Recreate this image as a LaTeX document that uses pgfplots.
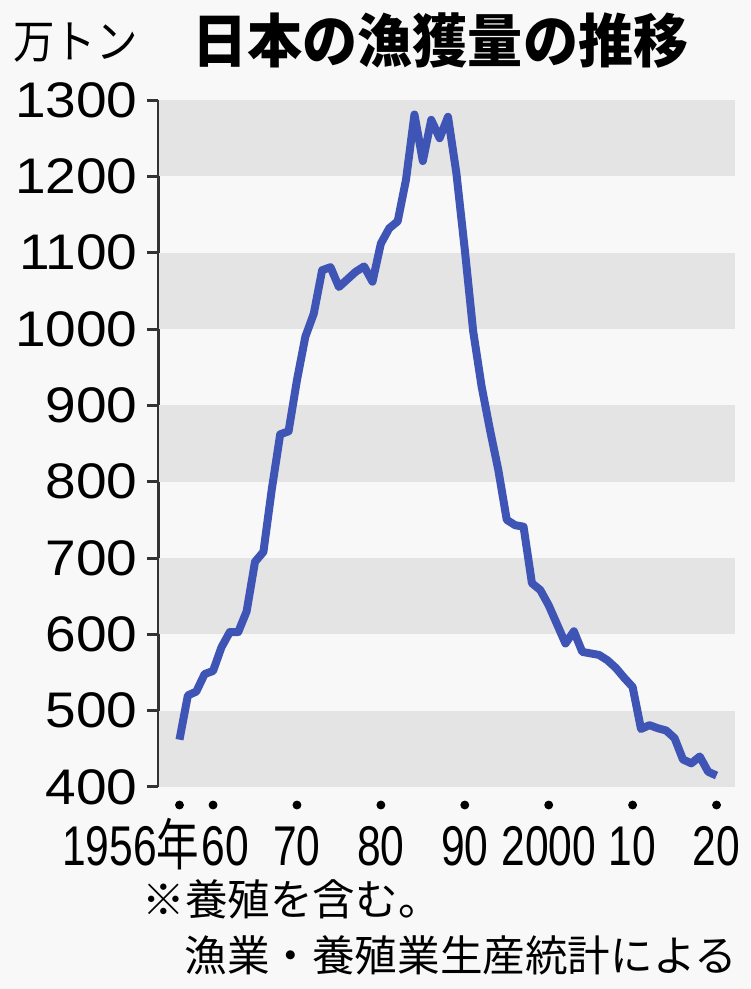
\documentclass[border=0pt]{standalone}
\usepackage{pgfplots}
\pgfplotsset{compat=1.18}
\usepackage{pgfplotstable}
\usepackage{fontspec}
\setmainfont{Liberation Sans}
\newfontfamily\cjk{Noto Sans CJK JP}
\newfontfamily\ylabfont[FakeStretch=1.1]{Liberation Sans}
\newfontfamily\xlabfont[FakeStretch=0.76]{Liberation Sans}
\newfontfamily\xcjk[FakeStretch=0.76]{Noto Sans CJK JP}
\newfontfamily\titlefont[FakeStretch=0.95]{Noto Sans CJK JP}
\newfontfamily\unitfont[FakeStretch=0.9]{Noto Sans CJK JP}
\definecolor{bg}{HTML}{F8F8F8}
\definecolor{band}{HTML}{E4E4E4}
\definecolor{linec}{HTML}{3F55B5}
\definecolor{axisc}{HTML}{333333}

\pgfplotstableread{
year val
1956 462
1957 520
1958 525
1959 548
1960 552
1961 583
1962 603
1963 603
1964 630
1965 695
1966 708
1967 790
1968 862
1969 866
1970 933
1971 990
1972 1020
1973 1077
1974 1081
1975 1055
1976 1065
1977 1075
1978 1082
1979 1062
1980 1112
1981 1132
1982 1141
1983 1196
1984 1281
1985 1220
1986 1274
1987 1250
1988 1278
1989 1204
1990 1104
1991 997
1992 925
1993 868
1994 815
1995 750
1996 743
1997 741
1998 667
1999 658
2000 638
2001 613
2002 588
2003 604
2004 577
2005 575
2006 573
2007 566
2008 556
2009 543
2010 531
2011 476
2012 481
2013 477
2014 474
2015 464
2016 436
2017 431
2018 440
2019 420
2020 415
}\catch

\pgfplotstableread{
year val
1956 376.4
1960 376.4
1970 376.4
1980 376.4
1990 376.4
2000 376.4
2010 376.4
2020 376.4
}\dots

\begin{document}
\begin{tikzpicture}
\fill[bg] (0,0) rectangle (375pt,494.5pt);
\begin{axis}[
  at={(79pt,101pt)}, anchor=south west,
  scale only axis, width=288.5pt, height=343.5pt,
  xmin=1953.44, xmax=2022.2, ymin=400, ymax=1300,
  axis x line*=bottom, axis y line*=left,
  x axis line style={draw=none},
  y axis line style={draw=axisc, line width=1.5pt},
  xtick={1956,1960,1970,1980,1990,2000,2010,2020},
  xticklabels={{\llap{1956{\xcjk 年}\kern-10pt}},{\kern12pt 60},70,80,90,2000,10,20},
  x tick style={draw=none},
  ytick={400,500,...,1300},
  y tick style={draw=axisc, line width=1.5pt},
  tick align=outside, major tick length=5.5pt,
  /pgf/number format/assume math mode=true,
  /pgf/number format/1000 sep={},
  yticklabel style={font=\ylabfont\fontsize{25}{25}\selectfont, anchor=east, inner sep=0pt, xshift=-4.5pt},
  xticklabel style={font=\xlabfont\fontsize{28}{28}\selectfont, anchor=base, inner sep=0pt, yshift=-34pt},
  clip=false,
]
\addplot[draw=none, fill=band, forget plot] coordinates {(1953.6,400) (2022.2,400) (2022.2,500) (1953.6,500)} -- cycle;
\addplot[draw=none, fill=band, forget plot] coordinates {(1953.6,600) (2022.2,600) (2022.2,700) (1953.6,700)} -- cycle;
\addplot[draw=none, fill=band, forget plot] coordinates {(1953.6,800) (2022.2,800) (2022.2,900) (1953.6,900)} -- cycle;
\addplot[draw=none, fill=band, forget plot] coordinates {(1953.6,1000) (2022.2,1000) (2022.2,1100) (1953.6,1100)} -- cycle;
\addplot[draw=none, fill=band, forget plot] coordinates {(1953.6,1200) (2022.2,1200) (2022.2,1300) (1953.6,1300)} -- cycle;
\addplot[linec, line width=4pt, line join=round] table[x=year, y=val] {\catch};
\addplot[only marks, mark=*, mark size=2pt, black] table[x=year, y=val] {\dots};
\end{axis}
\node[anchor=west, inner sep=0pt, font=\unitfont\fontsize{23}{23}\selectfont] at (6.5pt,473pt) {万トン};
\node[anchor=west, inner sep=0pt, font=\titlefont\bfseries\fontsize{29}{29}\selectfont] at (96pt,474pt) {日本の漁獲量の推移};
\node[anchor=west, inner sep=0pt, font=\cjk\fontsize{21.3}{21.3}\selectfont] at (71pt,45pt) {※養殖を含む。};
\node[anchor=west, inner sep=0pt, font=\cjk\fontsize{21.3}{21.3}\selectfont] at (92pt,17pt) {漁業・養殖業生産統計による};
\end{tikzpicture}
\end{document}
